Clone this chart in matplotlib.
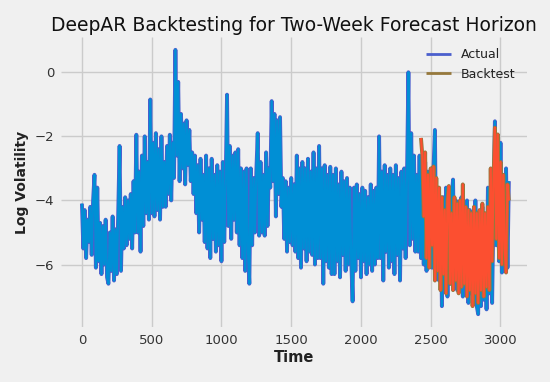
import numpy as np
import matplotlib
matplotlib.use('Agg')
import matplotlib.pyplot as plt

plt.style.use('fivethirtyeight')

# ---- data ----
step = 10
actual = [
    -4.1, -5.5, -4.3, -5.8, -4.6, -5.3, -4.2, -5.7, -4.0, -3.2,
    -6.1, -3.6, -5.9, -4.7, -6.3, -4.8, -6.0, -4.6, -6.4, -6.6,
    -5.0, -6.2, -4.5, -6.5, -4.9, -6.3, -4.4, -2.3, -6.2, -4.2,
    -5.5, -3.9, -5.4, -4.0, -5.2, -3.8, -5.5, -3.4, -5.0, -1.95,
    -5.0, -3.1, -5.6, -2.6, -4.8, -2.0, -4.4, -2.8, -4.6, -0.85,
    -4.4, -2.2, -4.5, -1.9, -4.3, -2.4, -4.6, -2.0, -4.2, -2.8,
    -4.2, -2.3, -3.8, -1.95, -4.0, -2.2, -3.3, 0.7, -2.6, -0.3,
    -3.4, -1.3, -3.0, -1.6, -3.5, -1.5, -2.9, -1.8, -3.4, -2.5,
    -3.8, -2.6, -4.4, -2.9, -5.0, -2.7, -4.6, -3.2, -5.3, -2.6,
    -5.5, -3.0, -5.8, -2.7, -5.2, -3.2, -5.6, -2.9, -5.4, -3.1,
    -5.9, -2.8, -5.3, -3.5, -0.7, -4.8, -2.3, -5.2, -2.6, -4.6,
    -2.5, -5.0, -2.4, -5.4, -3.0, -5.8, -3.1, -6.2, -3.0, -5.6,
    -6.6, -3.0, -5.4, -3.3, -5.0, -3.1, -1.9, -5.1, -2.8, -5.0,
    -3.2, -5.1, -2.5, -4.8, -3.0, -3.6, -0.9, -3.4, -1.3, -4.5,
    -1.5, -3.8, -1.4, -4.2, -3.3, -5.2, -3.4, -5.6, -3.6, -5.3,
    -3.3, -5.4, -3.5, -5.6, -2.6, -5.8, -3.0, -6.1, -2.8, -5.5,
    -3.0, -5.9, -2.7, -5.6, -3.1, -5.7, -2.5, -6.0, -3.0, -5.8,
    -2.3, -5.8, -3.0, -6.6, -2.9, -5.9, -3.2, -6.1, -2.95, -6.3,
    -3.2, -6.3, -3.0, -5.9, -3.5, -6.4, -3.1, -5.7, -3.4, -6.2,
    -3.3, -6.0, -3.6, -5.8, -7.15, -3.6, -6.2, -3.5, -5.8, -3.8,
    -6.4, -3.6, -5.9, -3.7, -6.3, -3.9, -6.0, -3.5, -6.2, -3.7,
    -6.0, -3.6, -5.8, -2.0, -5.8, -3.1, -6.5, -2.9, -5.6, -3.2,
    -6.1, -3.0, -5.9, -3.2, -6.3, -2.9, -5.7, -3.3, -6.5, -3.1,
    -5.5, -3.0, -5.8, -3.2, 0.0, -5.4, -1.9, -5.2, -2.6, -5.6,
    -3.2, -5.6, -2.6, -5.8, -3.0, -6.0, -2.8, -6.2, -3.1, -5.9,
    -3.4, -6.1, -3.0, -1.8, -6.1, -3.8, -6.5, -4.0, -7.3, -3.9,
    -6.8, -3.6, -7.0, -4.1, -6.6, -3.9, -3.35, -6.6, -4.0, -6.8,
    -4.1, -6.6, -3.9, -7.0, -4.2, -6.7, -4.0, -7.2, -4.3, -6.9,
    -4.4, -7.1, -4.0, -7.3, -7.55, -4.4, -7.3, -4.2, -7.1, -4.5,
    -7.4, -3.6, -6.9, -4.5, -7.2, -4.2, -1.53, -5.4, -3.2, -5.9,
    -2.2, -6.25, -3.5, -5.6, -3.0, -6.1, -3.4,
]
backtest_start = 2430
backtest = [
    -2.05, -2.6, -4.5, -2.5, -5.8, -3.2, -6.1, -3.0, -5.4, -2.94,
    -6.5, -3.3, -6.2, -3.6, -6.8, -3.9, -6.3, -4.3, -6.9, -4.0,
    -3.55, -6.6, -4.4, -6.8, -3.9, -6.5, -4.1, -6.9, -4.0, -6.7,
    -3.5, -6.6, -4.2, -7.0, -4.3, -6.8, -4.4, -7.3, -4.2, -6.9,
    -4.4, -7.2, -4.3, -6.8, -4.1, -7.0, -4.4, -6.7, -4.2, -6.8,
    -3.0, -5.9, -3.4, -1.73, -5.2, -1.94, -5.8, -2.8, -6.0, -3.2,
    -5.5, -6.25, -3.5, -4.0,
]
xticks = [0, 500, 1000, 1500, 2000, 2500, 3000]
yticks = [-6, -4, -2, 0]

t_actual = np.arange(len(actual)) * step
t_back = backtest_start + np.arange(len(backtest)) * step

fig = plt.figure(figsize=(5.5, 3.82), dpi=100)
fig.patch.set_facecolor('#f0f0f0')
ax = fig.add_axes([61 / 550, 1 - 327 / 382, 466 / 550, 290 / 382])
ax.set_facecolor('#f0f0f0')

ax.plot(t_actual, actual, color='#4b5fcd', lw=2.8, label='Actual')
ax.plot(t_actual, actual, color='#008fd5', lw=1.6)
ax.plot(t_back, backtest, color='#96783c', lw=2.8, label='Backtest')
ax.plot(t_back, backtest, color='#fc4f30', lw=1.6)

ax.set_xlim(-150, 3190)
ax.set_ylim(-7.95, 1.1)
ax.set_xticks(xticks)
ax.set_yticks(yticks)
ax.tick_params(axis='both', labelsize=9.5, labelcolor='#333333', length=0, pad=5)
ax.grid(True, color='#cbcbcb', lw=1)
for s in ax.spines.values():
    s.set_visible(False)

ax.set_title('DeepAR Backtesting for Two-Week Forecast Horizon', fontsize=13.5, pad=4, color='#111111')
ax.set_xlabel('Time', fontsize=10.5, fontweight='bold', color='#222222', labelpad=2)
ax.set_ylabel('Log Volatility', fontsize=10, fontweight='bold', color='#222222', labelpad=4)

leg = ax.legend(loc='upper right', fontsize=9, frameon=False)
for txt in leg.get_texts():
    txt.set_color('#222222')
for ln in leg.get_lines():
    ln.set_linewidth(2.0)

fig.savefig('out.png', dpi=100, facecolor=fig.get_facecolor())
